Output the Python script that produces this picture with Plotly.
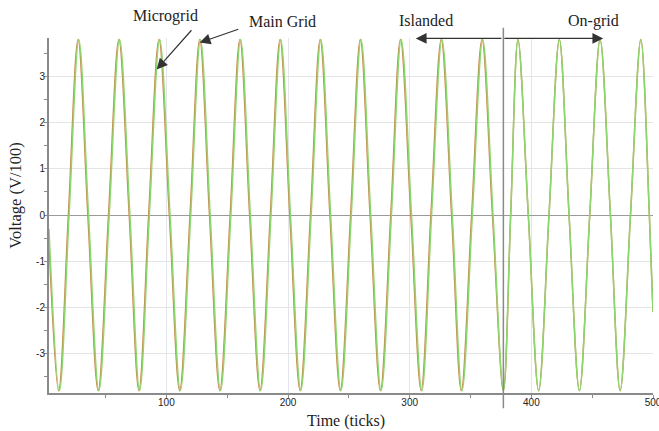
import plotly.graph_objects as go

# Key points (time in ticks, voltage in V/100)
main_t = [3.5, 12, 20, 28, 36, 44.5, 53, 61.5, 70, 78, 86, 94.5, 103, 111.5, 120, 128,
          136, 144.5, 153, 161, 169, 177.5, 186, 194, 202, 210.5, 219, 227, 235, 243.5,
          252, 260, 268, 276.5, 285, 293, 301.5, 310, 318, 326.5, 335, 343, 351.5, 360,
          368.5, 377, 383, 389, 397.5, 406, 414.5, 423, 431, 439.5, 448, 456.5, 465, 473,
          481.5, 490, 497, 500]
main_v = [-0.3, -3.8, 0, 3.8, 0, -3.8, 0, 3.8, 0, -3.8, 0, 3.8, 0, -3.8, 0, 3.8,
          0, -3.8, 0, 3.8, 0, -3.8, 0, 3.8, 0, -3.8, 0, 3.8, 0, -3.8,
          0, 3.8, 0, -3.8, 0, 3.8, 0, -3.8, 0, 3.8, 0, -3.8, 0, 3.8,
          0, -3.8, 0, 3.8, 0, -3.8, 0, 3.8, 0, -3.8, 0, 3.8, 0, -3.8,
          0, 3.8, 0, -2.1]

micro_t = [3.5, 11.4, 19.4, 27.4, 35.4, 43.9, 52.4, 60.9, 69.4, 77.4, 85.4, 93.9, 102.4, 110.9, 119.4, 127.4,
           135.4, 143.9, 152.4, 160.4, 168.4, 176.9, 185.4, 193.4, 201.4, 209.9, 218.4, 226.4, 234.4, 242.9,
           251.4, 259.4, 267.4, 275.9, 284.4, 292.4, 300.9, 309.4, 317.4, 325.9, 334.4, 342.4, 350.9, 359.4,
           368, 377, 383, 389, 397.5, 406, 414.5, 423, 431, 439.5, 448, 456.5, 465, 473,
           481.5, 490, 497, 500]
micro_v = [-0.6, -3.8, 0, 3.8, 0, -3.8, 0, 3.8, 0, -3.8, 0, 3.8, 0, -3.8, 0, 3.8,
           0, -3.8, 0, 3.8, 0, -3.8, 0, 3.8, 0, -3.8, 0, 3.8, 0, -3.8,
           0, 3.8, 0, -3.8, 0, 3.8, 0, -3.8, 0, 3.8, 0, -3.8, 0, 3.8,
           0, -3.8, 0, 3.8, 0, -3.8, 0, 3.8, 0, -3.8, 0, 3.8, 0, -3.8,
           0, 3.8, 0, -2.1]

x_ticks = [100, 200, 300, 400, 500]
y_ticks = [-3, -2, -1, 0, 1, 2, 3]
switch_time = 377

serif = "Liberation Serif, Times New Roman, serif"
sans = "Liberation Sans, Arial, sans-serif"

fig = go.Figure()
fig.add_trace(go.Scatter(x=micro_t, y=micro_v, mode="lines", name="Microgrid",
                         line=dict(color="#c8894a", width=1.4, shape="spline", smoothing=1)))
fig.add_trace(go.Scatter(x=main_t, y=main_v, mode="lines", name="Main Grid",
                         line=dict(color="#8cd66c", width=1.5, shape="spline", smoothing=1)))

fig.update_layout(
    width=659, height=431,
    margin=dict(l=49, r=6, t=38, b=38, autoexpand=False),
    plot_bgcolor="white", paper_bgcolor="white",
    showlegend=False,
    xaxis=dict(range=[3.5, 500], tickvals=x_ticks, ticktext=[str(v) for v in x_ticks],
               showgrid=True, gridcolor="#e4e4ec", gridwidth=1,
               showline=True, linecolor="#8a8a8a", linewidth=2,
               ticks="outside", ticklen=2, tickcolor="#8a8a8a",
               ticklabeloverflow="allow", ticklabelstandoff=-3,
               minor=dict(dtick=50, tick0=0, ticks="outside", ticklen=3, tickcolor="#8a8a8a", showgrid=False),
               tickfont=dict(family=sans, size=10, color="#222"), zeroline=False),
    yaxis=dict(range=[-3.85, 3.83], tickvals=y_ticks, ticktext=[str(v) for v in y_ticks],
               showgrid=True, gridcolor="#e4e4e4", gridwidth=1,
               showline=True, linecolor="#8a8a8a", linewidth=2,
               ticks="outside", ticklen=3, tickcolor="#8a8a8a", ticklabelstandoff=-3,
               minor=dict(dtick=0.5, tick0=0, ticks="outside", ticklen=3, tickcolor="#8a8a8a", showgrid=False),
               zeroline=True, zerolinecolor="#9a9a9a", zerolinewidth=1.2,
               tickfont=dict(family=sans, size=10, color="#222")),
)

# vertical switch line
fig.add_shape(type="line", xref="x", yref="paper", x0=switch_time, x1=switch_time,
              y0=-0.043, y1=1.029, line=dict(color="#8a8a8a", width=1.5))

# axis titles
fig.add_annotation(text="Time (ticks)", xref="paper", yref="paper", x=0.491, y=-0.08,
                   xanchor="center", yanchor="middle",
                   showarrow=False, font=dict(family=serif, size=16, color="#222"))
fig.add_annotation(text="Voltage (V/100)", xref="paper", yref="paper", x=-0.055, y=0.555,
                   xanchor="center", yanchor="middle",
                   textangle=-90, showarrow=False, font=dict(family=serif, size=16.5, color="#222"))

# labels
for txt, px, py in [("Microgrid", 0.193, 1.061), ("Main Grid", 0.387, 1.047),
                    ("Islanded", 0.624, 1.049), ("On-grid", 0.902, 1.049)]:
    fig.add_annotation(text=txt, xref="paper", yref="paper", x=px, y=py, showarrow=False,
                       xanchor="center", yanchor="middle",
                       font=dict(family=serif, size=16, color="#222"))

# arrows
arrows = [((92.0, 3.15), (121.7, 4.03)),
          ((127.4, 3.73), (160.3, 4.03)),
          ((305.0, 3.82), (376.6, 3.82)),
          ((459.1, 3.82), (376.6, 3.82))]
for (tx, ty), (ax, ay) in arrows:
    fig.add_annotation(x=tx, y=ty, ax=ax, ay=ay, xref="x", yref="y", axref="x", ayref="y",
                       text="", showarrow=True, arrowhead=2, arrowsize=1.8, arrowwidth=1.2,
                       arrowcolor="#333")

fig.write_html("out.html", config={"displayModeBar": False},
               post_script="document.body.style.margin='0';")
